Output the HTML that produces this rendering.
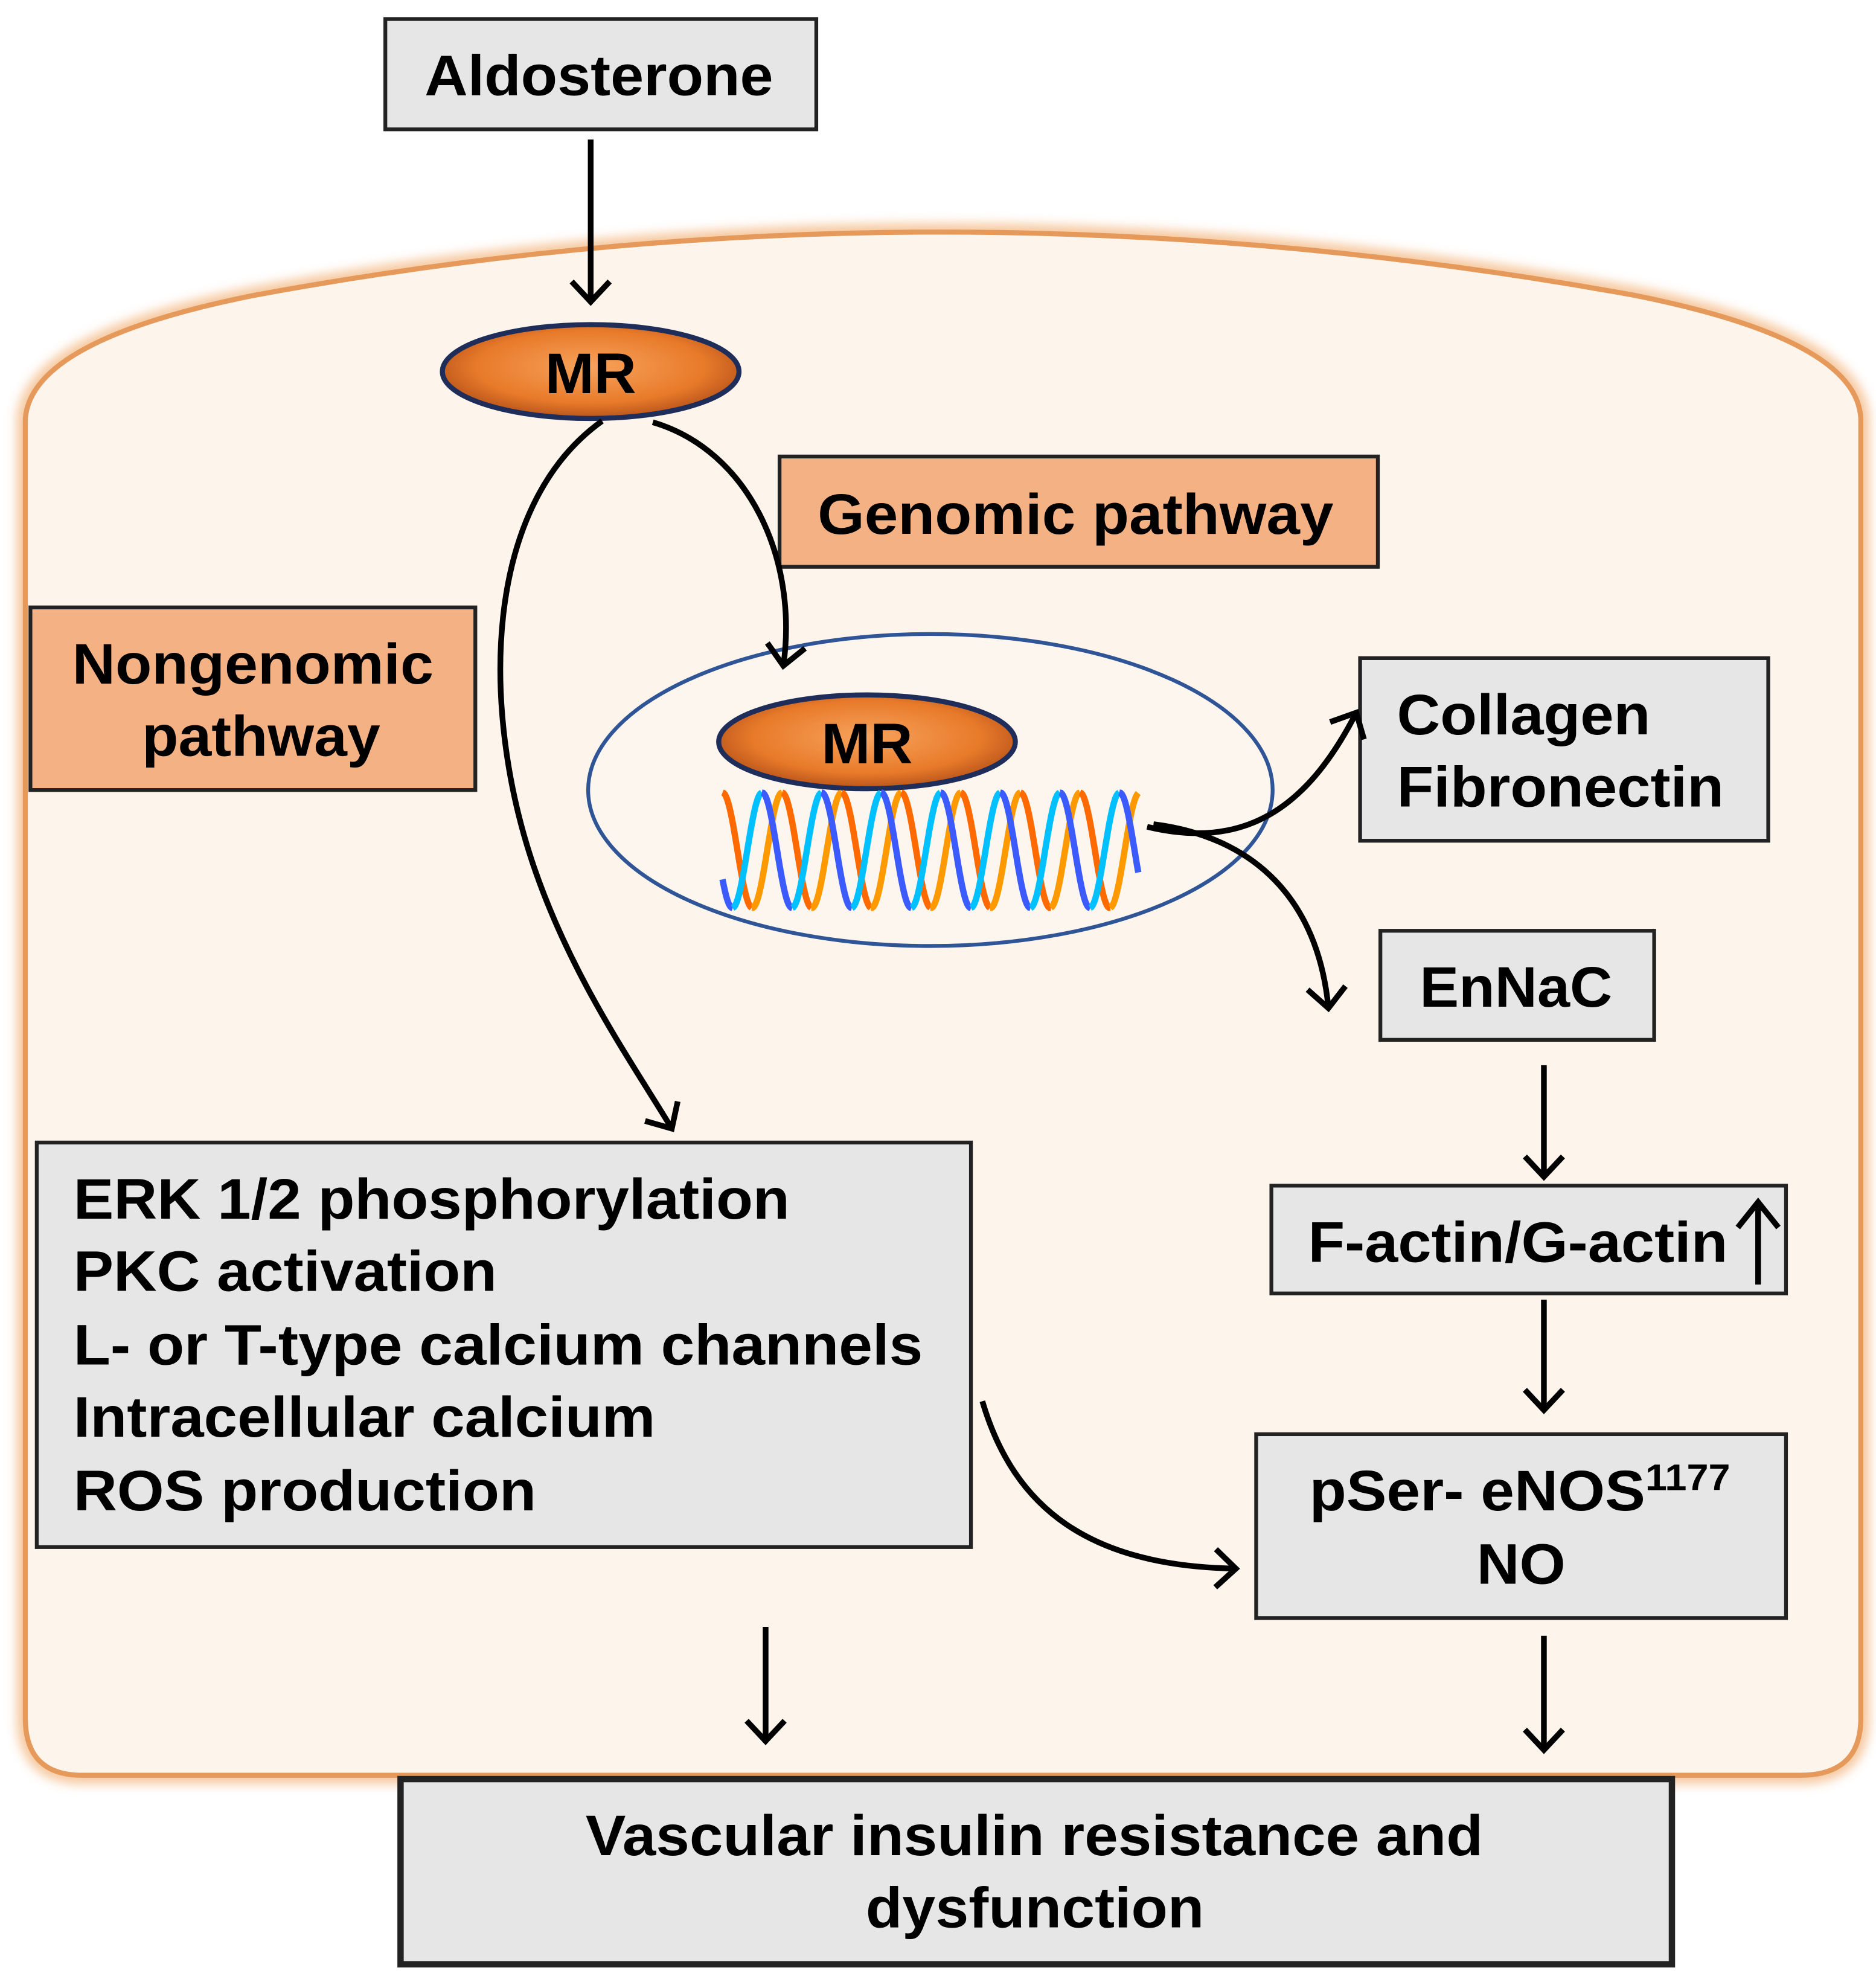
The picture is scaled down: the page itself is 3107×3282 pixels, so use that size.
<!DOCTYPE html>
<html><head><meta charset="utf-8"><style>
html,body{margin:0;padding:0;background:#fff;}
svg{display:block;}
text{font-family:"Liberation Sans",Arial,sans-serif;font-weight:bold;fill:#000;}
</style></head><body>
<svg id="s" width="3107" height="3282" viewBox="0 0 1480 1563" preserveAspectRatio="none" xmlns="http://www.w3.org/2000/svg">
<defs>
<radialGradient id="mrg" cx="50%" cy="45%" r="55%">
<stop offset="0" stop-color="#f7a35c"/><stop offset="0.7" stop-color="#e87a2a"/><stop offset="1" stop-color="#b8541a"/>
</radialGradient>
<marker id="ah" markerWidth="40" markerHeight="40" refX="20" refY="20" orient="auto" markerUnits="userSpaceOnUse">
<polyline points="4,5 20,20 4,35" fill="none" stroke="#000" stroke-width="4.5" stroke-linejoin="miter"/>
</marker>
<filter id="glow" x="-5%" y="-5%" width="110%" height="110%"><feGaussianBlur stdDeviation="4"/></filter>
</defs>
<rect width="1480" height="1563" fill="#fff"/>
<path d="M20,330 Q25,268 200,233 Q740,133 1290,233 Q1465,268 1468,330 L1468,1355 Q1468,1400 1420,1400 L65,1400 Q20,1400 20,1355 Z" fill="none" stroke="#f6c9a0" stroke-width="14" filter="url(#glow)"/>
<path d="M20,330 Q25,268 200,233 Q740,133 1290,233 Q1465,268 1468,330 L1468,1355 Q1468,1400 1420,1400 L65,1400 Q20,1400 20,1355 Z" fill="#fdf5ec" stroke="#e59a5c" stroke-width="4"/>
<rect x="304" y="15" width="340" height="87" fill="#e6e6e6" stroke="#222" stroke-width="3"/>
<text x="335" y="75" font-size="45" textLength="275" lengthAdjust="spacingAndGlyphs">Aldosterone</text>
<line x1="466" y1="110" x2="466" y2="238" stroke="#000" stroke-width="4.5" marker-end="url(#ah)"/>
<ellipse cx="466" cy="293" rx="117" ry="37" fill="url(#mrg)" stroke="#1f2d5a" stroke-width="4"/>
<text x="430" y="310" font-size="45" textLength="72" lengthAdjust="spacingAndGlyphs">MR</text>
<rect x="615" y="360" width="472" height="87" fill="#f4b183" stroke="#222" stroke-width="3"/>
<text x="645" y="421" font-size="45" textLength="407" lengthAdjust="spacingAndGlyphs">Genomic pathway</text>
<rect x="24" y="479" width="351" height="144" fill="#f4b183" stroke="#222" stroke-width="3"/>
<text x="57" y="539" font-size="45" textLength="285" lengthAdjust="spacingAndGlyphs">Nongenomic</text>
<text x="112" y="596" font-size="45" textLength="188" lengthAdjust="spacingAndGlyphs">pathway</text>
<ellipse cx="734" cy="623" rx="270" ry="123" fill="#fcf6ee" stroke="#2f5597" stroke-width="3"/>
<ellipse cx="684" cy="585" rx="117" ry="37" fill="url(#mrg)" stroke="#1f2d5a" stroke-width="4"/>
<text x="648" y="602" font-size="45" textLength="72" lengthAdjust="spacingAndGlyphs">MR</text>
<g id="helix" fill="none" stroke-width="5"></g>
<rect x="1073" y="519" width="322" height="144" fill="#e6e6e6" stroke="#222" stroke-width="3"/>
<text x="1102" y="579" font-size="45" textLength="200" lengthAdjust="spacingAndGlyphs">Collagen</text>
<text x="1102" y="636" font-size="45" textLength="258" lengthAdjust="spacingAndGlyphs">Fibronectin</text>
<rect x="1089" y="734" width="216" height="86" fill="#e6e6e6" stroke="#222" stroke-width="3"/>
<text x="1120" y="794" font-size="45" textLength="152" lengthAdjust="spacingAndGlyphs">EnNaC</text>
<rect x="1003" y="935" width="406" height="85" fill="#e6e6e6" stroke="#222" stroke-width="3"/>
<text x="1032" y="995" font-size="45" textLength="331" lengthAdjust="spacingAndGlyphs">F-actin/G-actin</text>
<line x1="1387" y1="1013" x2="1387" y2="948" stroke="#000" stroke-width="4.5"/>
<polyline points="1371,968 1387,948 1403,968" fill="none" stroke="#000" stroke-width="4.5"/>
<rect x="991" y="1131" width="418" height="145" fill="#e6e6e6" stroke="#222" stroke-width="3"/>
<text x="1033" y="1191" font-size="45" textLength="265" lengthAdjust="spacingAndGlyphs">pSer- eNOS</text>
<text x="1298" y="1175" font-size="29" textLength="67" lengthAdjust="spacingAndGlyphs">1177</text>
<text x="1165" y="1249" font-size="45" textLength="70" lengthAdjust="spacingAndGlyphs">NO</text>
<rect x="29" y="901" width="737" height="319" fill="#e6e6e6" stroke="#222" stroke-width="3"/>
<text x="58" y="961" font-size="45" textLength="565" lengthAdjust="spacingAndGlyphs">ERK 1/2 phosphorylation</text>
<text x="58" y="1018" font-size="45" textLength="334" lengthAdjust="spacingAndGlyphs">PKC activation</text>
<text x="58" y="1076" font-size="45" textLength="670" lengthAdjust="spacingAndGlyphs">L- or T-type calcium channels</text>
<text x="58" y="1133" font-size="45" textLength="459" lengthAdjust="spacingAndGlyphs">Intracellular calcium</text>
<text x="58" y="1191" font-size="45" textLength="365" lengthAdjust="spacingAndGlyphs">ROS production</text>
<rect x="316" y="1403" width="1003" height="146" fill="#e6e6e6" stroke="#222" stroke-width="5"/>
<text x="462" y="1463" font-size="45" textLength="708" lengthAdjust="spacingAndGlyphs">Vascular insulin resistance and</text>
<text x="683" y="1520" font-size="45" textLength="267" lengthAdjust="spacingAndGlyphs">dysfunction</text>
<g fill="none" stroke="#000" stroke-width="4.5">
<path d="M475,332 C380,400 380,560 420,680 C450,770 500,840 530,890" marker-end="url(#ah)"/>
<path d="M515,333 C590,355 630,440 618,525" marker-end="url(#ah)"/>
<path d="M905,652 C980,670 1030,640 1070,562" marker-end="url(#ah)"/>
<path d="M910,650 C990,660 1040,710 1048,795" marker-end="url(#ah)"/>
<line x1="1218" y1="840" x2="1218" y2="928" marker-end="url(#ah)"/>
<line x1="1218" y1="1025" x2="1218" y2="1112" marker-end="url(#ah)"/>
<path d="M775,1105 C800,1190 860,1235 975,1237" marker-end="url(#ah)"/>
<line x1="604" y1="1283" x2="604" y2="1373" marker-end="url(#ah)"/>
<line x1="1218" y1="1290" x2="1218" y2="1380" marker-end="url(#ah)"/>
</g>
</svg>
<script>
(function(){
var g=document.getElementById('helix');var ns='http://www.w3.org/2000/svg';
var x0=570,x1=898,yt=625,yb=716,P=47,A=(yb-yt)/2,ym=(yt+yb)/2;
function strand(ph,cDown,cUp){
 var pts=[];for(var x=x0;x<=x1;x+=1){var y=ym-A*Math.cos(2*Math.PI*(x-x0)/P+ph);pts.push([x,y]);}
 var seg=[pts[0]],dir=null;
 function flush(d){if(seg.length>1){var p=document.createElementNS(ns,'path');p.setAttribute('d','M'+seg.map(function(q){return q[0]+','+q[1].toFixed(1)}).join(' L'));p.setAttribute('stroke',d?cDown:cUp);g.appendChild(p);}}
 for(var i=1;i<pts.length;i++){var d=pts[i][1]>pts[i-1][1];if(dir!==null&&d!==dir){flush(dir);seg=[pts[i-1]];}dir=d;seg.push(pts[i]);}
 flush(dir);
}
strand(0,'#ff6a00','#ff9900');
strand(2.1,'#3b5bff','#00c0ff');
})();
</script>
</body></html>
